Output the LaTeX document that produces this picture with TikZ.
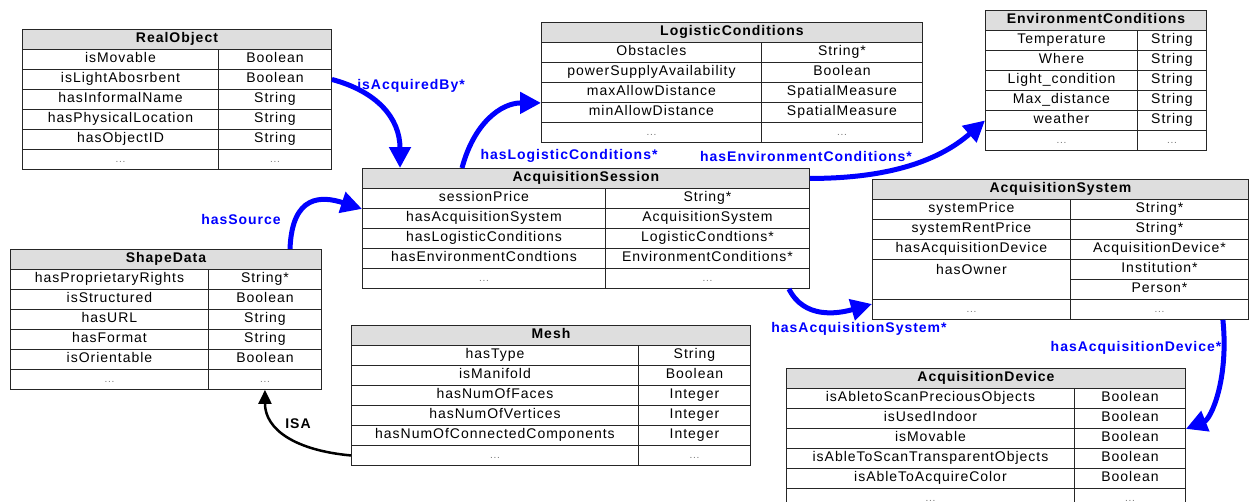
\documentclass[tikz,border=0pt]{standalone}
\usepackage{fontspec}
\setmainfont{Liberation Sans}[LetterSpace=7]
\usetikzlibrary{arrows.meta,calc}

\newcommand{\rowfont}{\fontsize{14}{16}\selectfont}
\newcommand{\etc}{{\fontsize{10}{10}\selectfont\color{black!55}...}}

\tikzset{
  cell/.style={draw=black!85, line width=0.9pt, minimum height=20pt, inner sep=0pt, text height=10pt, text depth=3pt, anchor=north west, font=\rowfont},
  titlecell/.style={cell, fill=black!13, font=\rowfont\bfseries},
  rel/.style={-{Triangle[length=21pt,width=21pt]}, blue, line width=5pt},
  isa/.style={-{Triangle[length=14pt,width=13pt]}, black, line width=2.5pt},
  rellabel/.style={text=blue, font=\rowfont\bfseries, inner sep=1pt},
}

% name, left, top, right, divider, title, rows
\newcommand{\classbox}[7]{%
  \node[titlecell, minimum width=#4-#2] (#1) at (#2,#3) {#6};
  \foreach \attr/\type [count=\i] in {#7}{
    \node[cell, minimum width=#5-#2] (#1-\i-l) at (#2,{#3+20*\i}) {\attr};
    \node[cell, minimum width=#4-#5] (#1-\i-r) at (#5,{#3+20*\i}) {\type};
  }
}

\begin{document}
\begin{tikzpicture}[x=1pt,y=-1pt]
    \useasboundingbox (0,0) rectangle (1252,501);
    \clip (0,0) rectangle (1252,501);

    % Classes
    \classbox{realobj}{22}{29}{331}{218}{RealObject}{isMovable/Boolean, isLightAbosrbent/Boolean, hasInformalName/String, hasPhysicalLocation/String, hasObjectID/String, \etc/\etc}
    \classbox{logi}{541}{22}{922}{761}{LogisticConditions}{Obstacles/String*, powerSupplyAvailability/Boolean, maxAllowDistance/SpatialMeasure, minAllowDistance/SpatialMeasure, \etc/\etc}
    \classbox{env}{985}{10}{1206}{1137}{EnvironmentConditions}{Temperature/String, Where/String, Light\_condition/String, Max\_distance/String, weather/String, \etc/\etc}
    \classbox{sess}{362}{168}{809}{605}{AcquisitionSession}{sessionPrice/String*, hasAcquisitionSystem/AcquisitionSystem, hasLogisticConditions/LogisticCondtions*, hasEnvironmentCondtions/EnvironmentConditions*, \etc/\etc}
    \classbox{shape}{10}{249}{321}{208}{ShapeData}{hasProprietaryRights/String*, isStructured/Boolean, hasURL/String, hasFormat/String, isOrientable/Boolean, \etc/\etc}
    \classbox{mesh}{351}{325}{750}{638}{Mesh}{hasType/String, isManifold/Boolean, hasNumOfFaces/Integer, hasNumOfVertices/Integer, hasNumOfConnectedComponents/Integer, \etc/\etc}
    \classbox{dev}{786}{368}{1185}{1074}{AcquisitionDevice}{isAbletoScanPreciousObjects/Boolean, isUsedIndoor/Boolean, isMovable/Boolean, isAbleToScanTransparentObjects/Boolean, isAbleToAcquireColor/Boolean, \etc/\etc}
    \classbox{sys}{872}{179}{1248}{1070}{AcquisitionSystem}{systemPrice/String*, systemRentPrice/String*, hasAcquisitionDevice/AcquisitionDevice*}

    % hasOwner spans two rows
    \node[cell, minimum width=198, minimum height=40pt, text height=0pt, text depth=0pt] (sys-4-l) at (872,259) {};
    \node[font=\rowfont, inner sep=0pt, anchor=north] (sys-owner) at ($(sys-4-l.north)+(0,5)$) {hasOwner};
    \node[cell, minimum width=178] (sys-4-r) at (1070,259) {Institution*};
    \node[cell, minimum width=178] (sys-5-r) at (1070,279) {Person*};
    \node[cell, minimum width=198] (sys-6-l) at (872,299) {\etc};
    \node[cell, minimum width=178] (sys-6-r) at (1070,299) {\etc};

    % Relations
    \draw[rel] (realobj-2-r.east) .. controls +(45,12) and +(0,-50) .. ($(sess.north west)+(38,0)$);
    \draw[rel] ($(sess.north west)+(100,0)$) .. controls +(12,-45) and +(-40,0) .. (logi-3-l.south west);
    \draw[rel] ($(shape.north west)+(280,0)$) .. controls +(2,-55) and +(-40,-13) .. (sess-1-l.south west);
    \draw[rel] (sess.east) .. controls +(90,0) and +(-40,35) .. (env-5-l.west);
    \draw[rel] ($(sess-5-r.south east)+(-21,0)$) .. controls +(15,30) and +(-35,10) .. ($(sys-6-l.north west)+(0,5)$);
    \draw[rel] ($(sys-6-r.south east)+(-26,0)$) .. controls +(6,60) and +(25,-10) .. (dev-2-r.south east);
    \draw[isa] (mesh-6-l.west) .. controls +(-55,-5) and +(0,40) .. (shape-6-r.south);

    % Labels
    \node[rellabel] (lbl-acquired) at (411,86) {isAcquiredBy*};
    \node[rellabel] (lbl-logi) at (569,156) {hasLogisticConditions*};
    \node[rellabel] (lbl-source) at (241,219) {hasSource};
    \node[rellabel] (lbl-env) at (806,156) {hasEnvironmentConditions*};
    \node[rellabel] (lbl-sys) at (859,329) {hasAcquisitionSystem*};
    \node[rellabel] (lbl-dev) at (1136,348) {hasAcquisitionDevice*};
    \node[rellabel, text=black] (lbl-isa) at (298,424) {ISA};
\end{tikzpicture}
\end{document}
